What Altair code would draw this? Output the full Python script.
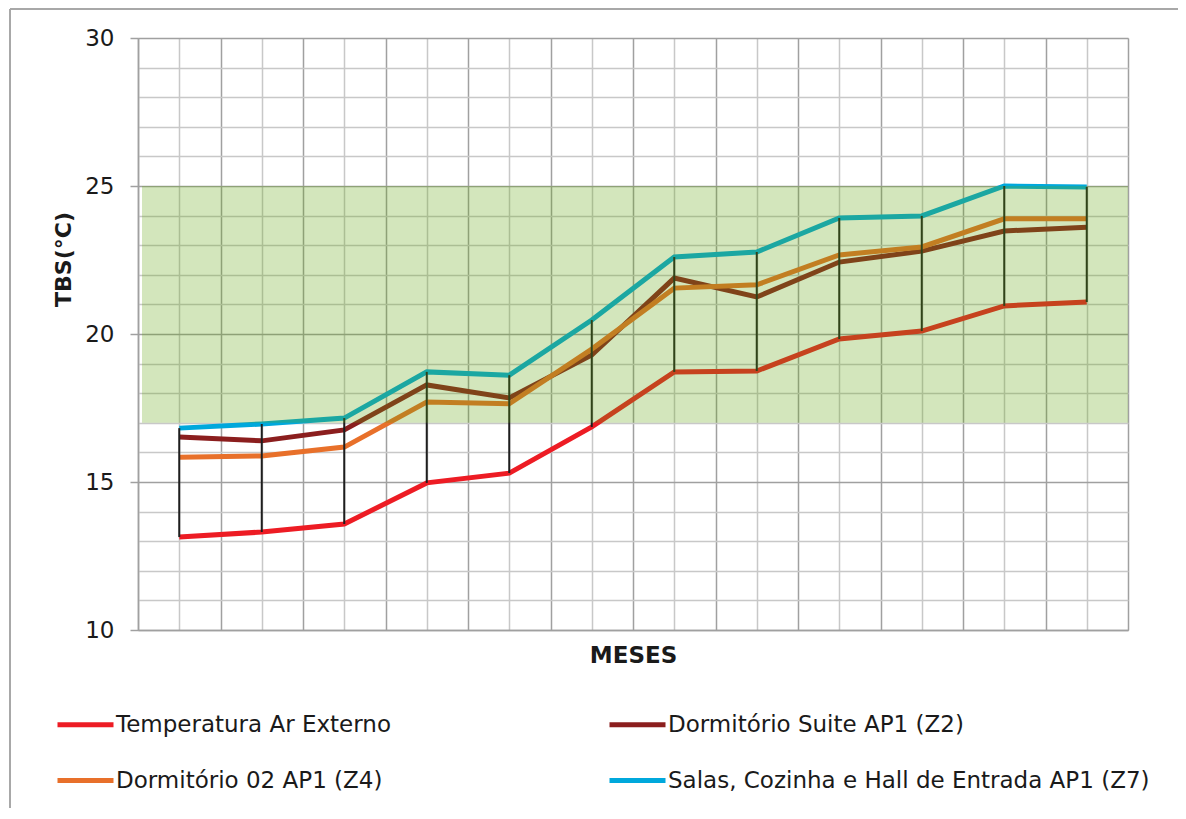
import altair as alt
import pandas as pd

meses = ["Jan", "Fev", "Mar", "Abr", "Mai", "Jun", "Jul", "Ago", "Set", "Out", "Nov", "Dez"]
series_names = [
    "Temperatura Ar Externo",
    "Dormitório Suite AP1 (Z2)",
    "Dormitório 02 AP1 (Z4)",
    "Salas, Cozinha e Hall de Entrada AP1 (Z7)",
]
ext = [13.14, 13.31, 13.58, 14.97, 15.30, 16.86, 18.72, 18.75, 19.83, 20.10, 20.95, 21.08]
z2 = [16.52, 16.39, 16.76, 18.28, 17.84, 19.29, 21.89, 21.25, 22.43, 22.80, 23.48, 23.61]
z4 = [15.84, 15.88, 16.18, 17.70, 17.64, 19.49, 21.55, 21.66, 22.67, 22.94, 23.89, 23.89]
z7 = [16.82, 16.96, 17.16, 18.72, 18.61, 20.47, 22.60, 22.77, 23.92, 23.99, 25.00, 24.97]
colors = ["#ED1C24", "#8B1E1E", "#E8702A", "#00A8DC"]
comfort_lo = [17]
comfort_hi = [25]

FONT = "DejaVu Sans"
W, H = 990, 592

rows = []
for name, vals in zip(series_names, [ext, z2, z4, z7]):
    for i, (m, v) in enumerate(zip(meses, vals)):
        rows.append({"mes": m, "idx": i + 1, "serie": name, "valor": v})
df = pd.DataFrame(rows)

rng = pd.DataFrame({
    "idx": [i + 1 for i in range(len(meses))],
    "lo": [min(a, b, c, d) for a, b, c, d in zip(ext, z2, z4, z7)],
    "hi": [max(a, b, c, d) for a, b, c, d in zip(ext, z2, z4, z7)],
})
band = pd.DataFrame({"lo": comfort_lo, "hi": comfort_hi})
one = pd.DataFrame({"k": [0]})

x_vals = [0.5 + 0.5 * i for i in range(25)]
y_vals = list(range(10, 31))

x_axis = alt.Axis(
    values=x_vals, tickCount=60, labels=False, ticks=False,
    title="MESES", titleFont=FONT, titleFontSize=23, titleFontWeight="bold",
    titleColor="#1a1a1a", titleBaseline="middle", titleY=25,
    domainColor="#a0a0a0", domainWidth=1.5,
    gridColor=alt.condition("datum.value % 1 === 0", alt.value("#c8c8c8"), alt.value("#a0a0a0")),
    gridWidth=1.5,
)
y_axis = alt.Axis(
    values=y_vals, tickCount=60, format="d",
    labelExpr="datum.value % 5 === 0 ? datum.label : ''",
    labelOverlap=False,
    labelFont=FONT, labelFontSize=23, labelColor="#1a1a1a", labelPadding=16,
    tickSize=8, tickWidth=1.5,
    tickColor=alt.condition("datum.value % 5 === 0", alt.value("#a0a0a0"), alt.value("transparent")),
    gridColor=alt.condition("datum.value % 5 === 0", alt.value("#a0a0a0"), alt.value("#c8c8c8")),
    gridWidth=1.5,
    domainColor="#a0a0a0", domainWidth=1.5,
    title="TBS(°C)", titleFont=FONT, titleFontSize=22, titleFontWeight="bold",
    titleColor="#1a1a1a", titleAngle=-90, titleAlign="center", titleBaseline="middle",
    titleX=-75, titleY=221,
)

xs = alt.Scale(domain=[0.5, 12.5], nice=False, zero=False)
ys = alt.Scale(domain=[10, 30], nice=False, zero=False)

lines = alt.Chart(df).mark_line(strokeWidth=5, strokeJoin="miter").encode(
    x=alt.X("idx:Q", scale=xs, axis=x_axis),
    y=alt.Y("valor:Q", scale=ys, axis=y_axis),
    color=alt.Color(
        "serie:N",
        scale=alt.Scale(domain=series_names, range=colors),
        sort=series_names,
        legend=alt.Legend(
            title=None, orient="none", legendX=-83, legendY=656,
            direction="horizontal",
            columns=2, columnPadding=208, rowPadding=13,
            symbolType="stroke", symbolSize=3136, symbolStrokeWidth=5,
            labelFont=FONT, labelFontSize=23, labelColor="#1a1a1a", labelOffset=0,
            labelLimit=700,
        ),
    ),
    order=alt.Order("idx:Q"),
)

rules = alt.Chart(rng).mark_rule(color="#1e1e1e", strokeWidth=2).encode(
    x=alt.X("idx:Q", scale=xs),
    y=alt.Y("lo:Q", scale=ys),
    y2="hi:Q",
)

green = alt.Chart(band).mark_rect(color="#62A610", opacity=0.28).encode(
    x=alt.value(4), x2=alt.value(W),
    y=alt.Y("hi:Q", scale=ys), y2="lo:Q",
)

border_left = alt.Chart(one).mark_rule(color="#a8a8a8", strokeWidth=2).encode(
    x=alt.value(-128), y=alt.value(-29), y2=alt.value(H + 200)
)
border_top = alt.Chart(one).mark_rule(color="#a8a8a8", strokeWidth=2).encode(
    x=alt.value(-128), x2=alt.value(W + 100), y=alt.value(-29)
)

chart = alt.layer(lines, rules, green, border_left, border_top).properties(
    width=W, height=H,
    autosize=alt.AutoSizeParams(type="none"),
    padding={"left": 130, "top": 30, "right": 50, "bottom": 178},
).configure_view(strokeWidth=0).configure(background="white")

chart.save("out.html", embed_options={"renderer": "svg", "actions": False})
